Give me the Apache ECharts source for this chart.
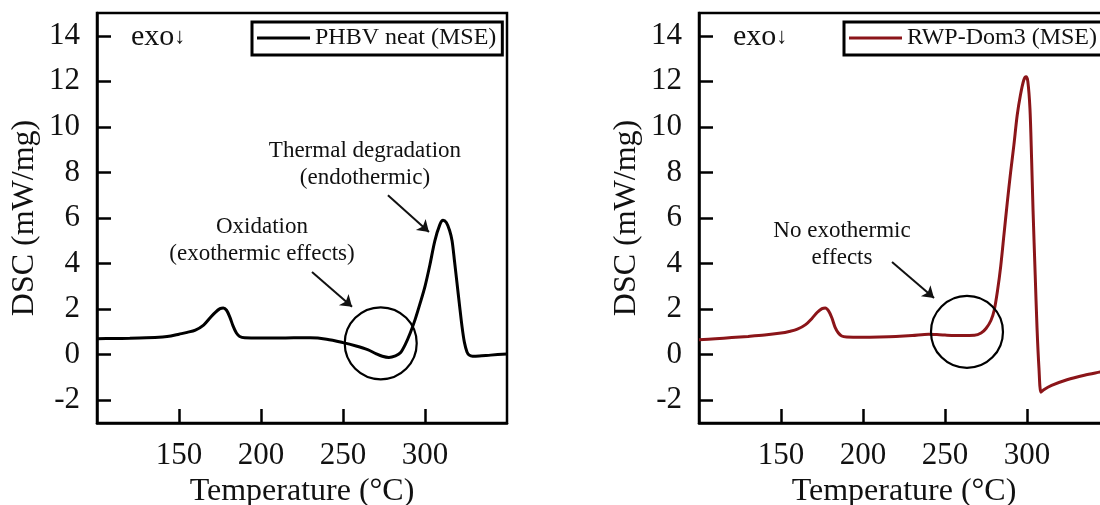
<!DOCTYPE html>
<html>
<head>
<meta charset="utf-8">
<title>DSC curves</title>
<script src="https://cdn.jsdelivr.net/npm/echarts@6/dist/echarts.min.js"></script>
<style>
    html, body { margin: 0; padding: 0; background: #fff; }
    #chart { width: 1100px; height: 505px; }
</style>
</head>
<body>
<div id="chart"></div>
<script>
// PHBV neat (MSE)
var phbvTemp = [100, 110, 120, 130, 140, 145, 150, 155, 160, 165, 169, 172, 175, 177, 179, 181, 183, 185, 187, 190,
    200, 210, 220, 230, 240, 250, 258, 265, 270, 274, 278, 282, 285, 288, 291, 294, 297, 300, 303, 306, 309, 311,
    313, 315, 316.5, 318, 319.5, 321, 322.6, 324, 325.6, 327, 329, 333, 340, 350];
var phbvDsc = [0.70, 0.71, 0.72, 0.74, 0.78, 0.82, 0.90, 0.98, 1.08, 1.30, 1.62, 1.85, 2.02, 2.05, 1.95, 1.65, 1.25, 0.95, 0.80, 0.74,
    0.73, 0.73, 0.74, 0.74, 0.68, 0.53, 0.38, 0.22, 0.05, -0.07, -0.12, -0.05, 0.08, 0.45, 0.95, 1.55, 2.25, 3.0, 3.95, 5.0, 5.7, 5.9,
    5.8, 5.45, 5.0, 4.1, 3.15, 2.2, 1.22, 0.55, 0.12, -0.02, -0.07, -0.06, -0.02, 0.03];

// RWP-Dom3 (MSE)
var rwpTemp = [100, 110, 120, 130, 140, 150, 155, 160, 165, 169, 172, 175, 177, 179, 181, 183, 185, 187, 190,
    200, 210, 220, 230, 240, 245, 250, 260, 268, 272, 275, 278, 280, 282, 284, 286, 288, 290, 292, 294, 296, 298,
    299.4, 300.5, 301.8, 302.8, 303.7, 305, 306.1, 307.3, 308.5, 310, 315, 324.4, 335, 344.5, 350];
var rwpDsc = [0.65, 0.70, 0.75, 0.80, 0.86, 0.95, 1.02, 1.12, 1.32, 1.60, 1.85, 2.02, 2.05, 1.92, 1.62, 1.20, 0.95, 0.82, 0.78,
    0.77, 0.78, 0.80, 0.84, 0.90, 0.88, 0.86, 0.84, 0.85, 0.95, 1.15, 1.5, 1.95, 2.8, 3.9, 5.3, 6.7, 8.0, 9.2, 10.5, 11.4, 12.05,
    12.2, 12.0, 10.8, 8.6, 6.3, 3.5, 1.2, -0.6, -1.65, -1.55, -1.35, -1.1, -0.9, -0.76, -0.68];

var xTicks = [150, 200, 250, 300];
var yTicks = [-2, 0, 2, 4, 6, 8, 10, 12, 14];

var font = 'Liberation Serif';
var red = '#8b1519';

function zip(xs, ys) {
    var out = [];
    for (var i = 0; i < xs.length; i++) {
        out.push([xs[i], ys[i]]);
    }
    return out;
}

function makeX(idx) {
    return {
        type: 'value', gridIndex: idx, min: 100, max: 350,
        name: 'Temperature (°C)', nameLocation: 'middle', nameGap: 48,
        nameTextStyle: {fontFamily: font, fontSize: 32, color: '#111'},
        axisLine: {show: true, onZero: false, lineStyle: {color: '#000', width: 2.5}},
        axisTick: {show: true, inside: true, length: 14, customValues: xTicks, lineStyle: {color: '#000', width: 2.5}},
        axisLabel: {customValues: xTicks, fontFamily: font, fontSize: 31, color: '#111', margin: 17},
        splitLine: {show: false}
    };
}

function makeY(idx) {
    return {
        type: 'value', gridIndex: idx, min: -3, max: 15,
        name: 'DSC (mW/mg)', nameLocation: 'middle', nameGap: 56,
        nameTextStyle: {fontFamily: font, fontSize: 32, color: '#111'},
        axisLine: {show: true, onZero: false, lineStyle: {color: '#000', width: 2.5}},
        axisTick: {show: true, inside: true, length: 14, customValues: yTicks, lineStyle: {color: '#000', width: 2.5}},
        axisLabel: {customValues: yTicks, fontFamily: font, fontSize: 31, color: '#111', margin: 17},
        splitLine: {show: false}
    };
}

function makeLegend(name, left, padRight) {
    return {
        data: [name], left: left, top: 22, selectedMode: false,
        icon: 'rect', itemWidth: 53, itemHeight: 3, itemGap: 0,
        borderColor: '#000', borderWidth: 3, padding: [4, padRight, 5, 5],
        textStyle: {fontFamily: font, fontSize: 24, color: '#111'}
    };
}

// note texts, arrows and the circles live in data coordinates
function note(text, coord) {
    return {
        coord: coord, symbol: 'rect', symbolSize: 1,
        itemStyle: {color: 'rgba(0,0,0,0)'},
        label: {show: true, position: 'inside', formatter: text, align: 'center',
            fontFamily: font, fontSize: 23, lineHeight: 27, color: '#111'}
    };
}

function ring(coord) {
    return {
        coord: coord, symbol: 'circle', symbolSize: 72,
        itemStyle: {color: 'rgba(0,0,0,0)', borderColor: '#000', borderWidth: 2.2},
        label: {show: false}
    };
}

function arrow(from, to) {
    return [{coord: from}, {coord: to}];
}

var markLineStyle = {
    silent: true, symbol: ['none', 'arrow'], symbolSize: 11,
    lineStyle: {color: '#111', width: 2, type: 'solid'},
    label: {show: false}
};

function exoTitle(left) {
    return {
        text: 'exo{a|↓}', left: left, top: 22, padding: 0,
        textStyle: {fontFamily: font, fontSize: 30, fontWeight: 'normal', color: '#111',
            rich: {a: {fontSize: 22, fontFamily: font, color: '#111'}}}
    };
}

var option = {
    animation: false,
    backgroundColor: '#fff',
    title: [exoTitle(131), exoTitle(733)],
    legend: [makeLegend('PHBV neat (MSE)', 252, 6), makeLegend('RWP-Dom3 (MSE)', 844, 14)],
    grid: [
        {left: 97, top: 13, width: 410, height: 410, show: true, borderColor: '#000', borderWidth: 2.5,
            containLabel: false, outerBoundsMode: 'none'},
        {left: 699, top: 13, width: 410, height: 410, show: true, borderColor: '#000', borderWidth: 2.5,
            containLabel: false, outerBoundsMode: 'none'}
    ],
    xAxis: [makeX(0), makeX(1)],
    yAxis: [makeY(0), makeY(1)],
    series: [
        {
            name: 'PHBV neat (MSE)', type: 'line', xAxisIndex: 0, yAxisIndex: 0,
            data: zip(phbvTemp, phbvDsc), showSymbol: false, symbol: 'none', smooth: 0.3,
            lineStyle: {color: '#000', width: 3}, itemStyle: {color: '#000'},
            markPoint: {
                silent: true,
                data: [
                    ring([273, 0.5]),
                    note('Thermal degradation\n(endothermic)', [263.4, 8.37]),
                    note('Oxidation\n(exothermic effects)', [200.6, 5.03])
                ]
            },
            markLine: Object.assign({
                data: [
                    arrow([277.4, 7.0], [302.4, 5.39]),
                    arrow([231.1, 3.63], [255.5, 2.1])
                ]
            }, markLineStyle)
        },
        {
            name: 'RWP-Dom3 (MSE)', type: 'line', xAxisIndex: 1, yAxisIndex: 1,
            data: zip(rwpTemp, rwpDsc), showSymbol: false, symbol: 'none', smooth: 0.3,
            lineStyle: {color: red, width: 3}, itemStyle: {color: red},
            markPoint: {
                silent: true,
                data: [
                    ring([263.4, 1.0]),
                    note('No exothermic\neffects', [187.2, 4.82])
                ]
            },
            markLine: Object.assign({
                data: [
                    arrow([217.7, 4.07], [243.3, 2.49])
                ]
            }, markLineStyle)
        }
    ]
};

var chart = echarts.init(document.getElementById('chart'));
chart.setOption(option);
</script>
</body>
</html>
